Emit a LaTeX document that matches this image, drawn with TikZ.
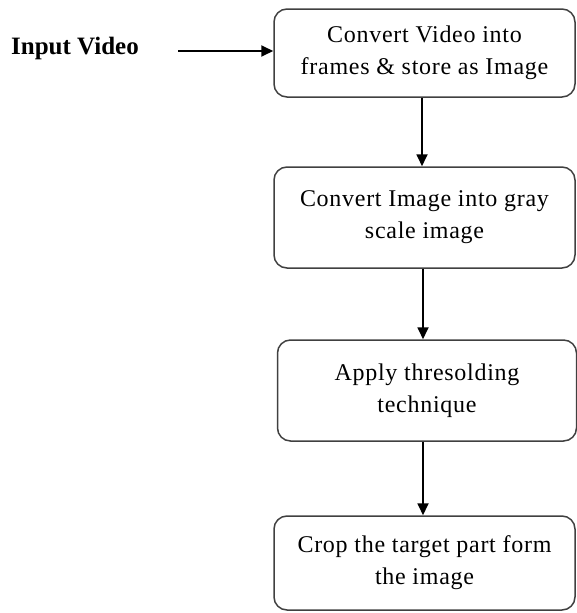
\documentclass[tikz,border=0pt]{standalone}
\usepackage{fontspec}
\setmainfont{Liberation Serif}
\usetikzlibrary{arrows.meta}
\begin{document}
\begin{tikzpicture}[x=1pt,y=-1pt,
  stepbox/.style={draw=black!75, line width=1.5pt, rounded corners=13pt,
    minimum width=301pt, align=center, inner sep=0pt,
    font=\addfontfeature{LetterSpace=3}\fontsize{24pt}{32pt}\selectfont},
  flow/.style={draw=black, line width=1.8pt,
    -{Triangle[length=12pt,width=11pt]}}]
\useasboundingbox (0,0) rectangle (576,613);
% process steps
\node[stepbox, minimum height=88pt] (b1) at (424.5,53)
  {Convert Video into\\frames \& store as Image};
\node[stepbox, minimum height=101pt] (b2) at (424.5,217.5)
  {Convert Image into gray\\scale image};
\node[stepbox, minimum height=101pt, minimum width=299pt] (b3) at (427,390.5)
  {Apply thresolding\\technique};
\node[stepbox, minimum height=94pt] (b4) at (424.5,563)
  {Crop the target part form\\the image};
% input label
\node[anchor=west, inner sep=0pt, font=\bfseries\fontsize{25pt}{30pt}\selectfont]
  (in) at (11,48) {Input Video};
\coordinate (inStart) at (178,51);
% connectors
\draw[flow] (inStart) -- (inStart -| b1.west);
\draw[flow] ([xshift=-2.5pt]b1.south) -- ([xshift=-2.5pt]b1.south |- b2.north);
\draw[flow] ([xshift=-1.5pt]b2.south) -- ([xshift=-1.5pt]b2.south |- b3.north);
\draw[flow] ([xshift=-1.5pt]b2.south |- b3.south) -- ([xshift=-1.5pt]b2.south |- b4.north);
\end{tikzpicture}
\end{document}
